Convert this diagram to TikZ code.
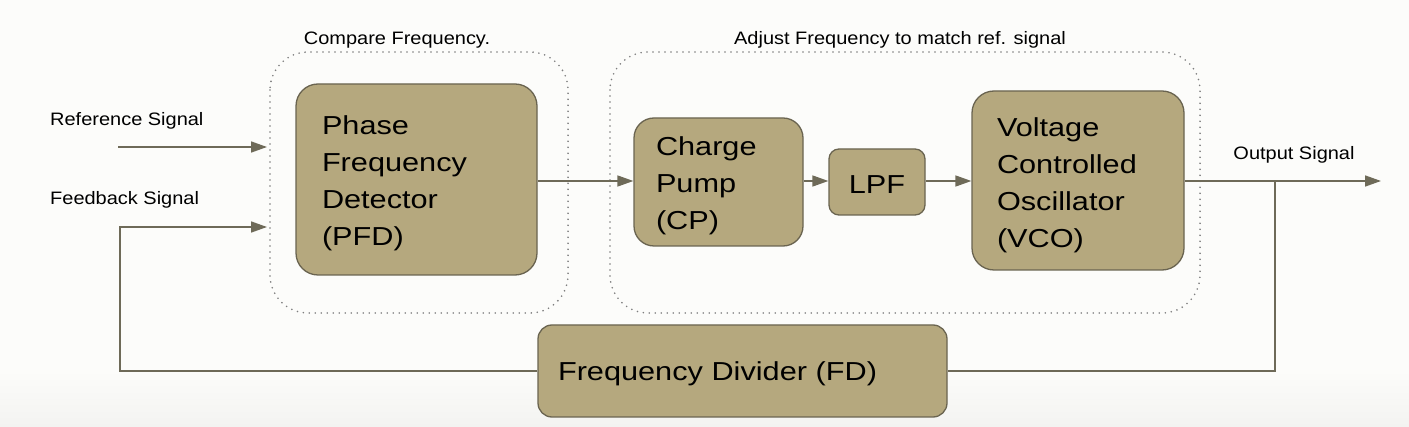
\documentclass[tikz,border=0pt]{standalone}
\usepackage{fontspec}
\setmainfont[FakeStretch=1.11]{Liberation Sans}
\newfontfamily\boxfont[FakeStretch=1.18]{Liberation Sans}
\usetikzlibrary{arrows.meta}
\definecolor{bg}{HTML}{FCFCFA}
\definecolor{bgb}{HTML}{F3F3F1}
\definecolor{boxfill}{HTML}{B5A87E}
\definecolor{boxdraw}{HTML}{6A6450}
\definecolor{wire}{HTML}{6E6A58}
\definecolor{dotc}{HTML}{7E7E7E}
\tikzset{
  blk/.style={draw=boxdraw, line width=1.3pt, fill=boxfill, rounded corners=22pt,
    font=\boxfont\fontsize{26}{37}\selectfont, align=left, inner ysep=0pt},
  grp/.style={draw=dotc, line width=1.8pt, line cap=round, dash pattern=on 0pt off 6pt, rounded corners=38pt},
  lbl/.style={font=\fontsize{18}{22}\selectfont, inner sep=0pt},
  wirel/.style={draw=wire, line width=1.6pt},
  arr/.style={wirel, -{Triangle[length=16pt,width=11pt]}},
}
\begin{document}
\begin{tikzpicture}[x=1pt,y=-1pt]
\useasboundingbox[fill=bg] (0,0) rectangle (1409,427);
\shade[top color=bg, bottom color=bgb] (0,370) rectangle (1409,427);
% groups
\draw[grp] (270,52) rectangle (568,313);
\draw[grp] (610,52) rectangle (1200,313);
\node[lbl, anchor=base] (lcmp) at (397,45) {Compare Frequency.};
\node[lbl, anchor=base] (ladj) at (900,45) {Adjust Frequency to match ref. signal};
% blocks
\node[blk, text height=0pt, text depth=89pt, minimum width=241pt, minimum height=191pt, text width=189pt, inner xsep=26pt] (pfd) at (416.5,179.5) {Phase\\Frequency\\Detector\\(PFD)};
\node[blk, text height=0pt, text depth=52pt, minimum width=169pt, minimum height=128pt, text width=125pt, inner xsep=22pt, rounded corners=20pt] (cp) at (718.5,182) {Charge\\Pump\\(CP)};
\node[blk, text height=24pt, text depth=0pt, minimum width=96pt, minimum height=66pt, align=center, inner xsep=0pt, rounded corners=10pt] (lpf) at (877,182) {LPF};
\node[blk, text height=0pt, text depth=88pt, minimum width=212pt, minimum height=179pt, text width=162pt, inner xsep=25pt] (vco) at (1078,180.5) {Voltage\\Controlled\\Oscillator\\(VCO)};
\node[blk, text height=19pt, text depth=0pt, minimum width=409pt, minimum height=92pt, text width=369pt, inner xsep=20pt, rounded corners=14pt] (fd) at (742.5,371) {Frequency Divider (FD)};
% labels
\node[lbl, anchor=base west] (lref) at (50,126) {Reference Signal};
\node[lbl, anchor=base west] (lfb) at (50,205) {Feedback Signal};
\node[lbl, anchor=base] (lout) at (1294,160) {Output Signal};
% coordinates
\coordinate (refs) at (118,147);
\coordinate (refin) at (267,147);
\coordinate (fbc) at (120,227);
\coordinate (fbin) at (267,227);
\coordinate (outj) at (1275,181);
\coordinate (outend) at (1381,181);
% connectors
\draw[arr] (refs) -- (refin);
\draw[arr] (fd.west) -| (fbc) -- (fbin);
\draw[arr] (pfd.east |- outj) -- (cp.west |- outj);
\draw[arr] (cp.east |- outj) -- (lpf.west |- outj);
\draw[arr] (lpf.east |- outj) -- (vco.west |- outj);
\draw[arr] (vco.east |- outj) -- (outend);
\draw[wirel] (outj) |- (fd.east);
\end{tikzpicture}
\end{document}
